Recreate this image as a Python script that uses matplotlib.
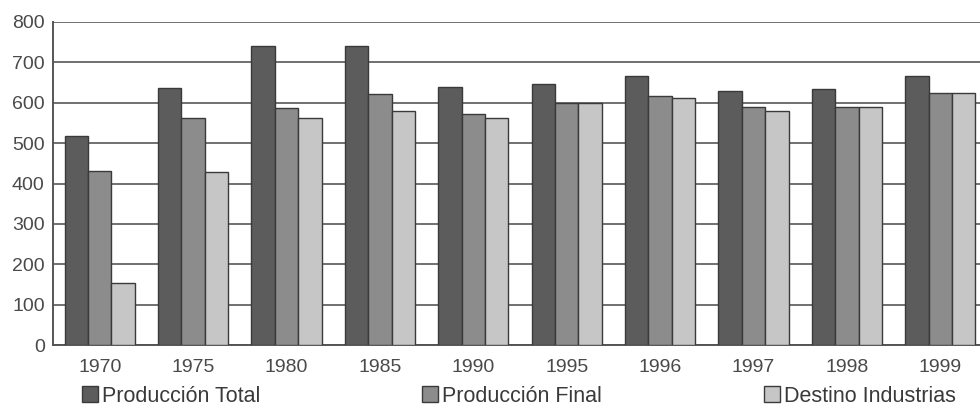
import matplotlib.pyplot as plt
import numpy as np

plt.rcParams['font.family'] = ['Liberation Sans', 'DejaVu Sans']

years = ['1970', '1975', '1980', '1985', '1990', '1995', '1996', '1997', '1998', '1999']
produccion_total = [518, 636, 740, 740, 639, 647, 666, 630, 634, 666]
produccion_final = [432, 562, 587, 621, 572, 599, 616, 590, 590, 624]
destino_industrias = [153, 428, 562, 580, 563, 599, 612, 580, 590, 624]

series = [
    ('Producción Total', produccion_total, '#5c5c5c'),
    ('Producción Final', produccion_final, '#8c8c8c'),
    ('Destino Industrias', destino_industrias, '#c6c6c6'),
]

fig = plt.figure(figsize=(9.8, 4.05), dpi=100)
ax = fig.add_axes([53 / 980, 60 / 405, 934 / 980, 323 / 405])

x = np.arange(len(years))
w = 0.25
bars = []
for i, (name, vals, col) in enumerate(series):
    b = ax.bar(x + (i - 1) * w, vals, w, color=col, edgecolor='#3a3a3a',
               linewidth=1.0, zorder=3, label=name)
    bars.append(b)

ax.set_xlim(-0.5, len(years) - 0.5)
ax.set_ylim(0, 800)
ax.set_yticks(range(0, 801, 100))
ax.set_xticks(x)
ax.set_xticklabels(years)
ax.yaxis.grid(True, color='#707070', linewidth=1.4, zorder=0)
ax.tick_params(length=0, labelsize=14, colors='#4a4a4a')
ax.tick_params(axis='y', pad=6)
ax.tick_params(axis='x', pad=10)
for s in ['top', 'right']:
    ax.spines[s].set_visible(False)
ax.spines['left'].set_color('#555555')
ax.spines['bottom'].set_color('#555555')
ax.spines['left'].set_linewidth(1.4)
ax.spines['bottom'].set_linewidth(1.4)

# legend entries spread along the bottom
pos = [82 / 980, 422 / 980, 764 / 980]
for b, px in zip(bars, pos):
    fig.legend(handles=[b], loc='center left', bbox_to_anchor=(px, 9 / 405),
               frameon=False, fontsize=15.5, handlelength=0.75, handleheight=0.75,
               handletextpad=0.2, borderaxespad=0, borderpad=0,
               labelcolor='#3a3a3a')

fig.savefig('out.png', dpi=100)
